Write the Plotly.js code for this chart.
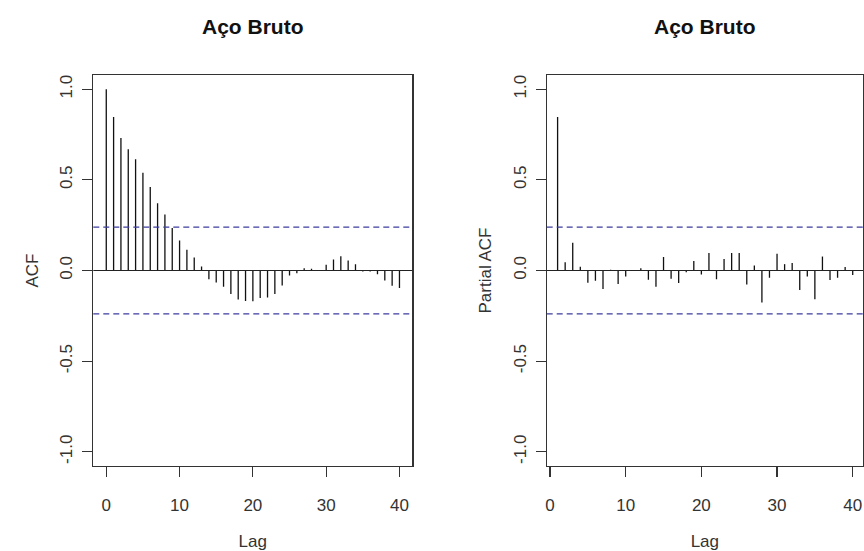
<!DOCTYPE html>
<html>
<head>
<meta charset="utf-8">
<script src="https://cdn.plot.ly/plotly-3.0.1.min.js"></script>
<style>html,body{margin:0;padding:0;background:#fff;}#chart{width:864px;height:551px;}</style>
</head>
<body>
<div id="chart"></div>
<script>
// ACF lags 0..40
var acfLags = [0,1,2,3,4,5,6,7,8,9,10,11,12,13,14,15,16,17,18,19,20,21,22,23,24,25,26,27,28,29,30,31,32,33,34,35,36,37,38,39,40];
var acfValues = [1.0,0.846,0.731,0.669,0.614,0.539,0.460,0.371,0.309,0.234,0.165,0.114,0.072,0.022,-0.048,-0.066,-0.090,-0.130,-0.160,-0.168,-0.170,-0.152,-0.149,-0.130,-0.083,-0.028,-0.015,0.012,0.010,0.003,0.032,0.061,0.079,0.055,0.035,-0.005,-0.006,-0.020,-0.055,-0.084,-0.097];
// PACF lags 1..40
var pacfLags = [1,2,3,4,5,6,7,8,9,10,11,12,13,14,15,16,17,18,19,20,21,22,23,24,25,26,27,28,29,30,31,32,33,34,35,36,37,38,39,40];
var pacfValues = [0.846,0.046,0.153,0.021,-0.068,-0.057,-0.102,0.004,-0.075,-0.033,-0.003,0.013,-0.051,-0.090,0.074,-0.046,-0.069,-0.009,0.053,-0.022,0.097,-0.048,0.064,0.097,0.097,-0.077,0.028,-0.176,-0.040,0.092,0.035,0.041,-0.108,-0.033,-0.158,0.077,-0.053,-0.040,0.019,-0.025];
var ciLimit = 0.239;
var titleText = "Aço Bruto";
var xTickVals = [0,10,20,30,40];
var yTickVals = [-1,-0.5,0,0.5,1];
var yTickText = ["-1.0","-0.5","0.0","0.5","1.0"];

function spikes(lags, vals, xa, ya) {
  var xs = [], ys = [];
  for (var i = 0; i < lags.length; i++) {
    xs.push(lags[i], lags[i], null);
    ys.push(0, vals[i], null);
  }
  return {x: xs, y: ys, xaxis: xa, yaxis: ya, type: 'scatter', mode: 'lines',
          line: {color: '#111', width: 1.3}, hoverinfo: 'skip', showlegend: false};
}

var W = 864, H = 551;
var fontFam = '"Liberation Sans", Arial, sans-serif';
var tickFont = {family: fontFam, size: 17, color: '#333'};
var axColor = '#333';

function xAxis(domain, range, anchor) {
  return {domain: domain, range: range, anchor: anchor, tickvals: xTickVals, ticktext: xTickVals.map(String),
    ticks: 'outside', ticklen: 10, tickwidth: 1.2, tickcolor: axColor, showline: true, mirror: true,
    linecolor: axColor, linewidth: 1.2, showgrid: false, zeroline: false, tickfont: tickFont,
    ticklabelstandoff: 13,
    title: {text: 'Lag', font: {family: fontFam, size: 17, color: '#333'}, standoff: 31}};
}
function yAxis(domain, anchor, label) {
  return {domain: domain, range: [-1.078, 1.078], anchor: anchor, tickvals: yTickVals, ticktext: yTickText,
    tickangle: -90, ticks: 'outside', ticklen: 10, tickwidth: 1.2, tickcolor: axColor, showline: true,
    mirror: true, linecolor: axColor, linewidth: 1.2, showgrid: false, zeroline: false, tickfont: tickFont,
    ticklabelstandoff: 3,
    title: {text: label, font: {family: fontFam, size: 17, color: '#333'}, standoff: 14}};
}

var yDom = [1 - 466 / H, 1 - 75 / H];
var x1Dom = [93.3 / W, 412.3 / W];
var x2Dom = [546.7 / W, 863 / W];

var data = [spikes(acfLags, acfValues, 'x', 'y'), spikes(pacfLags, pacfValues, 'x2', 'y2')];

function hline(xref, yref, yv, dashed) {
  return {type: 'line', xref: xref + ' domain', x0: 0, x1: 1, yref: yref, y0: yv, y1: yv,
    line: dashed ? {color: '#3d3d9e', width: 1.2, dash: '6px,4px'} : {color: '#222', width: 1.2}};
}

var layout = {
  width: W, height: H, margin: {l: 0, r: 0, t: 0, b: 0},
  paper_bgcolor: '#fff', plot_bgcolor: '#fff', showlegend: false,
  xaxis: xAxis(x1Dom, [-1.77, 41.75], 'y'),
  yaxis: yAxis(yDom, 'x', 'ACF'),
  xaxis2: xAxis(x2Dom, [-0.44, 41.36], 'y2'),
  yaxis2: yAxis(yDom, 'x2', 'Partial ACF'),
  shapes: [
    hline('x', 'y', 0, false), hline('x', 'y', ciLimit, true), hline('x', 'y', -ciLimit, true),
    hline('x2', 'y2', 0, false), hline('x2', 'y2', ciLimit, true), hline('x2', 'y2', -ciLimit, true)
  ],
  annotations: [
    {text: '<b>' + titleText + '</b>', xref: 'paper', yref: 'paper', x: (x1Dom[0] + x1Dom[1]) / 2, y: 1 - 26 / H,
     xanchor: 'center', yanchor: 'middle', showarrow: false, font: {family: fontFam, size: 21, color: '#111'}},
    {text: '<b>' + titleText + '</b>', xref: 'paper', yref: 'paper', x: (x2Dom[0] + x2Dom[1]) / 2, y: 1 - 26 / H,
     xanchor: 'center', yanchor: 'middle', showarrow: false, font: {family: fontFam, size: 21, color: '#111'}}
  ]
};

Plotly.newPlot('chart', data, layout, {staticPlot: true, displayModeBar: false});
</script>
</body>
</html>
